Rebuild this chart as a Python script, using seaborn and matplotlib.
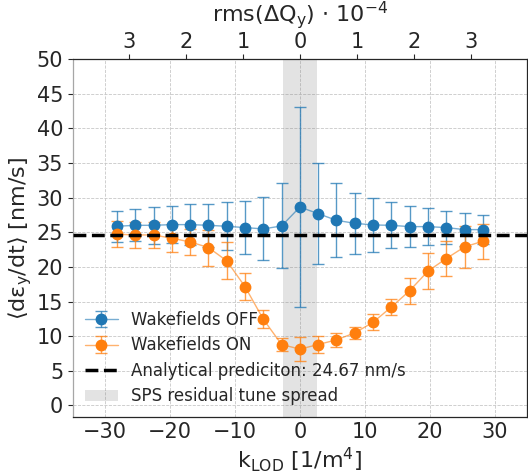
import matplotlib
matplotlib.use("Agg")
import matplotlib.pyplot as plt
import matplotlib.colors as mcolors
import seaborn as sns

# k_LOD scan points [1/m^4]
k_lod = [-28.2, -25.38, -22.56, -19.74, -16.92, -14.1, -11.28, -8.46, -5.64, -2.82,
         0.0, 2.82, 5.64, 8.46, 11.28, 14.1, 16.92, 19.74, 22.56, 25.38, 28.2]

# emittance growth rate, wakefields OFF
rate_off = [25.87, 26.01, 26.01, 26.11, 26.11, 26.01, 25.87, 25.68, 25.49, 25.92,
            28.65, 27.69, 26.73, 26.30, 26.06, 26.01, 25.82, 25.82, 25.68, 25.39, 25.39]
err_off = [2.21, 2.31, 2.64, 2.69, 2.97, 3.07, 3.45, 3.88, 4.55, 6.14,
           14.5, 7.25, 5.33, 4.41, 3.89, 3.31, 2.98, 2.69, 2.40, 2.40, 2.06]

# emittance growth rate, wakefields ON
rate_on = [24.72, 24.62, 24.62, 24.14, 23.61, 22.80, 20.88, 17.14, 12.44, 8.79,
           8.12, 8.79, 9.46, 10.47, 12.00, 14.21, 16.56, 19.39, 21.21, 22.89, 23.71]
err_on = [1.85, 1.92, 1.92, 2.0, 1.9, 2.6, 2.65, 1.92, 1.3, 1.0,
          1.7, 1.29, 1.06, 0.91, 1.15, 1.2, 1.88, 2.64, 2.55, 3.0, 2.5]

analytical = 24.67
tune_spread_k = 2.64  # half width of residual tune spread, in k_LOD units

# top axis: rms tune spread (x 1e-4)
top_ticks_k = [-26.4, -17.6, -8.8, 0.0, 8.8, 17.6, 26.4]
top_labels = ["3", "2", "1", "0", "1", "2", "3"]

sns.set_theme(style="ticks")
plt.rcParams["font.family"] = ["DejaVu Sans"]
plt.rcParams["mathtext.default"] = "regular"

blue, orange = sns.color_palette("tab10")[:2]

fig = plt.figure(figsize=(5.28, 4.74), dpi=100)
ax = fig.add_axes([0.138, 0.12, 0.86, 0.755])

ax.axvspan(-tune_spread_k, tune_spread_k, color="0.5", alpha=0.22, lw=0,
           label="SPS residual tune spread", zorder=1)

for rate, err, col, lab in [(rate_off, err_off, blue, "Wakefields OFF"),
                            (rate_on, err_on, orange, "Wakefields ON")]:
    ax.errorbar(k_lod, rate, yerr=err, fmt="o-", color=mcolors.to_rgba(col, 0.6),
                ecolor=mcolors.to_rgba(col, 0.75), mfc=col, mec=col, ms=7.5, mew=1,
                lw=1, elinewidth=1, capsize=4, capthick=1, label=lab, zorder=2)

ax.axhline(analytical, color="black", ls="--", lw=2.5, zorder=3,
           label=f"Analytical prediciton: {analytical} nm/s")

ax.set_xlim(-35, 35)
ax.set_ylim(-1.7, 50)
ax.set_xticks([-30, -20, -10, 0, 10, 20, 30])
ax.set_yticks(range(0, 51, 5))
ax.grid(True, ls="--", lw=0.6, color="0.78")
ax.tick_params(labelsize=15, length=3.5, width=0.8)
ax.tick_params(axis="x", length=0)
for s in ax.spines.values():
    s.set_color("0.15")
    s.set_linewidth(0.9)
ax.spines["left"].set_color("0.65")

ax.set_xlabel(r"$k_{LOD}$ [1/m$^4$]", fontsize=16, labelpad=2)
ax.set_ylabel(r"$\langle d\epsilon_y/dt\rangle$ [nm/s]", fontsize=16, labelpad=2)

ax2 = ax.twiny()
ax2.set_xlim(ax.get_xlim())
ax2.set_xticks(top_ticks_k)
ax2.set_xticklabels(top_labels)
ax2.tick_params(labelsize=15, length=3.5, width=0.8, pad=2)
ax2.set_xlabel(r"rms($\Delta Q_y$) $\cdot$ 10$^{-4}$", fontsize=16, labelpad=7)
for s in ax2.spines.values():
    s.set_visible(False)

h, l = ax.get_legend_handles_labels()
order = [l.index("Wakefields OFF"), l.index("Wakefields ON"),
         l.index(f"Analytical prediciton: {analytical} nm/s"),
         l.index("SPS residual tune spread")]
ax.legend([h[i] for i in order], [l[i] for i in order], loc="lower left",
          frameon=False, fontsize=12, borderaxespad=0.3, labelspacing=0.45)

fig.savefig("out.png", dpi=100)
